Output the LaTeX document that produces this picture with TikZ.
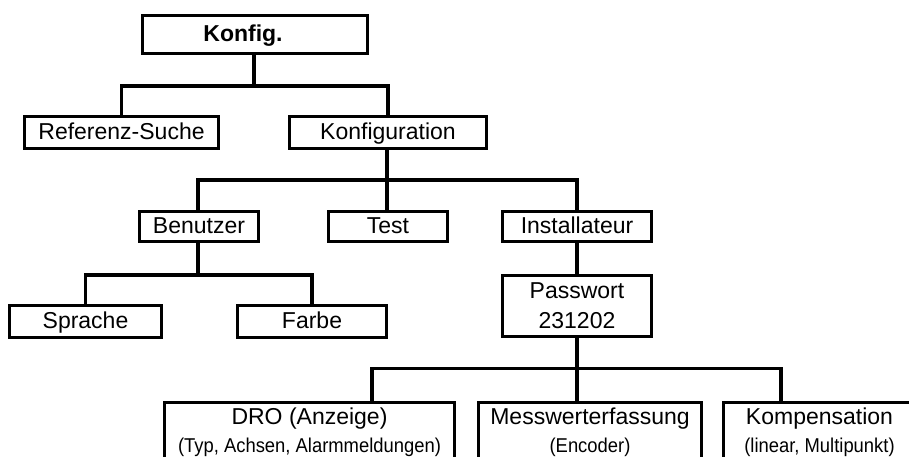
\documentclass[tikz,border=0pt]{standalone}
\usepackage{fontspec}
\setmainfont{Liberation Sans}
\newcommand{\narrowsub}[1]{\scalebox{0.92}[1]{#1}}
\begin{document}
\begin{tikzpicture}[x=1pt, y=-1pt,
  line width=3.2pt,
  box/.style={draw, rectangle, inner sep=0pt, text height=16.5pt, text depth=3.2pt,
    font=\fontsize{23}{28}\selectfont},
  openbox/.style={draw, rectangle, inner sep=0pt},
  title/.style={inner sep=0pt, anchor=base, font=\fontsize{23}{28}\selectfont},
  subtitle/.style={inner sep=0pt, anchor=base, font=\fontsize{20}{24}\selectfont},
  wire/.style={draw, line width=3.2pt}
]
\useasboundingbox (0,0) rectangle (909,457);
\clip (0,0) rectangle (909,457);

% top level
\node[box, minimum width=224.8pt, minimum height=37.8pt, font=\fontsize{23}{28}\selectfont\bfseries]
  (konfig) at (255,34.5) {Konfig.\kern24pt};

% second level
\node[box, minimum width=193.8pt, minimum height=31.8pt] (ref)  at (121.5,132.5) {Referenz-Suche};
\node[box, minimum width=196.8pt, minimum height=31.8pt] (konf) at (388,132.5)   {Konfiguration};

% third level
\node[box, minimum width=118.8pt, minimum height=30pt]  (ben)  at (199,226.7) {Benutzer};
\node[box, minimum width=118.8pt, minimum height=30pt]  (test) at (388,226.5) {Test};
\node[box, minimum width=148.8pt, minimum height=30pt]  (inst) at (577,226.5) {Installateur};

% user settings
\node[box, minimum width=151.8pt, minimum height=31.8pt] (spr)   at (85.5,321.5) {Sprache};
\node[box, minimum width=148.8pt, minimum height=31.8pt] (farbe) at (312,321.5)  {Farbe};

% password
\node[draw, rectangle, inner sep=0pt, minimum width=148.8pt, minimum height=60.8pt,
  align=center, font=\fontsize{23}{30}\selectfont] (pw) at (577,306) {Passwort\\231202};

% installer menu (boxes run past the lower edge)
\node[openbox, anchor=north, minimum width=289.8pt, minimum height=100pt] (dro)  at (309.5,400.6) {};
\node[openbox, anchor=north, minimum width=222.8pt, minimum height=100pt] (mess) at (590,400.6)   {};
\node[openbox, anchor=north, minimum width=191.8pt, minimum height=100pt] (komp) at (819.5,400.6) {};

\node[title]    (dro-t)  at ([yshift=-23.4pt]dro.north)  {DRO (Anzeige)};
\node[subtitle] (dro-s)  at ([yshift=-51.4pt]dro.north)  {\narrowsub{(Typ, Achsen, Alarmmeldungen)}};
\node[title]    (mess-t) at ([yshift=-23.4pt]mess.north) {Messwerterfassung};
\node[subtitle] (mess-s) at ([yshift=-51.4pt]mess.north) {\narrowsub{(Encoder)}};
\node[title]    (komp-t) at ([yshift=-23.4pt]komp.north) {Kompensation};
\node[subtitle] (komp-s) at ([yshift=-51.4pt]komp.north) {\narrowsub{(linear, Multipunkt)}};

% junctions
\coordinate (j1) at (254,86);
\coordinate (j2) at (387,180);
\coordinate (j3) at (198,275);
\coordinate (j4) at (577,368.5);

% connectors
\draw[wire] (konfig.south -| j1) -- (j1);
\draw[wire] (ref.north) |- (j1) -| (konf.north);

\draw[wire] (konf.south -| j2) -- (j2);
\draw[wire] (ben.north -| j3) |- (j2) -| (inst.north);
\draw[wire] (j2) -- (test.north -| j2);

\draw[wire] (ben.south -| j3) -- (j3);
\draw[wire] (spr.north) |- (j3) -| (farbe.north);

\draw[wire] (inst.south) -- (pw.north);
\draw[wire] (pw.south) -- (pw.south |- mess.north);
\draw[wire] ([xshift=62.5pt]dro.north) |- (j4) -| ([xshift=-38.5pt]komp.north);
\end{tikzpicture}
\end{document}
